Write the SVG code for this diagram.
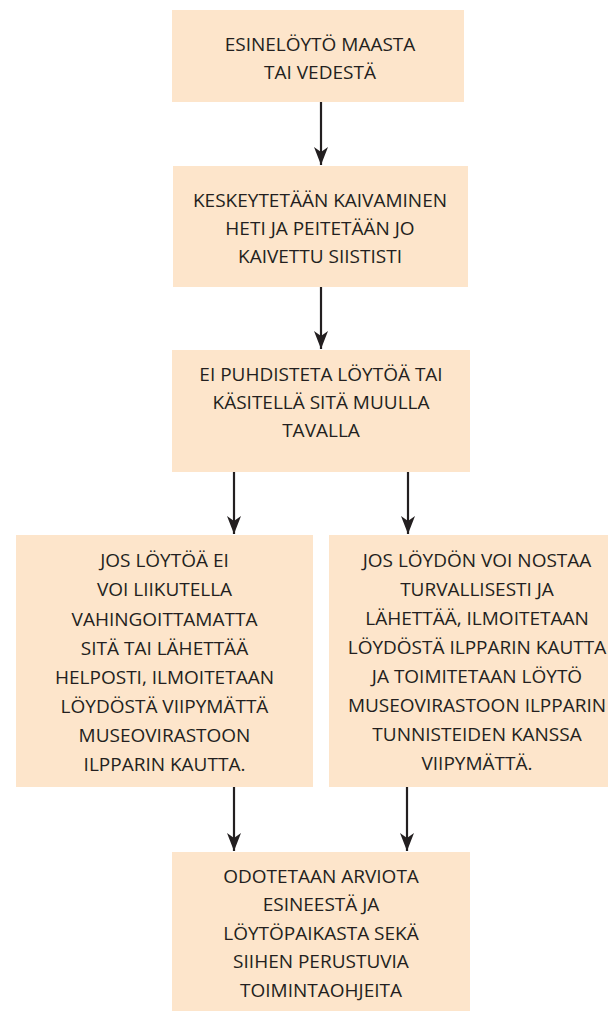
<svg xmlns="http://www.w3.org/2000/svg" width="608" height="1011" viewBox="0 0 608 1011">
<style>
.box{fill:#fde5cb;}
.t{font-family:"Open Sans","Liberation Sans",sans-serif;font-size:19px;font-weight:500;fill:#231f20;text-anchor:middle;}
.c{stroke:#231f20;stroke-width:2.2;fill:none;}
</style>
<defs>
<marker id="ah" markerUnits="userSpaceOnUse" markerWidth="18" markerHeight="15" viewBox="-18 -7.5 18 15" refX="0" refY="0" orient="auto">
<path d="M0,0 L-18,-7 L-13,0 L-18,7 Z" fill="#231f20"/>
</marker>
</defs>
<rect width="608" height="1011" fill="#ffffff"/>
<g id="n1">
<rect class="box" x="172" y="10" width="292" height="92"/>
<text class="t" x="320" y="51">ESINELÖYTÖ MAASTA</text>
<text class="t" x="320" y="79">TAI VEDESTÄ</text>
</g>
<g id="n2">
<rect class="box" x="173" y="166" width="295" height="121"/>
<text class="t" x="320" y="207">KESKEYTETÄÄN KAIVAMINEN</text>
<text class="t" x="320" y="235">HETI JA PEITETÄÄN JO</text>
<text class="t" x="320" y="263">KAIVETTU SIISTISTI</text>
</g>
<g id="n3">
<rect class="box" x="172" y="350" width="298" height="122"/>
<text class="t" x="321" y="381">EI PUHDISTETA LÖYTÖÄ TAI</text>
<text class="t" x="321" y="409">KÄSITELLÄ SITÄ MUULLA</text>
<text class="t" x="321" y="437">TAVALLA</text>
</g>
<g id="n4">
<rect class="box" x="16" y="535" width="297" height="252"/>
<text class="t" x="164.5" y="567">JOS LÖYTÖÄ EI</text>
<text class="t" x="164.5" y="596">VOI LIIKUTELLA</text>
<text class="t" x="164.5" y="626">VAHINGOITTAMATTA</text>
<text class="t" x="164.5" y="655">SITÄ TAI LÄHETTÄÄ</text>
<text class="t" x="164.5" y="684">HELPOSTI, ILMOITETAAN</text>
<text class="t" x="164.5" y="713">LÖYDÖSTÄ VIIPYMÄTTÄ</text>
<text class="t" x="164.5" y="742">MUSEOVIRASTOON</text>
<text class="t" x="164.5" y="771">ILPPARIN KAUTTA.</text>
</g>
<g id="n5">
<rect class="box" x="329" y="535" width="290" height="252"/>
<text class="t" x="477" y="567">JOS LÖYDÖN VOI NOSTAA</text>
<text class="t" x="477" y="596">TURVALLISESTI JA</text>
<text class="t" x="477" y="625">LÄHETTÄÄ, ILMOITETAAN</text>
<text class="t" x="477" y="654">LÖYDÖSTÄ ILPPARIN KAUTTA</text>
<text class="t" x="477" y="683">JA TOIMITETAAN LÖYTÖ</text>
<text class="t" x="477" y="712">MUSEOVIRASTOON ILPPARIN</text>
<text class="t" x="477" y="741">TUNNISTEIDEN KANSSA</text>
<text class="t" x="477" y="770">VIIPYMÄTTÄ.</text>
</g>
<g id="n6">
<rect class="box" x="172" y="852" width="298" height="159"/>
<text class="t" x="321" y="883">ODOTETAAN ARVIOTA</text>
<text class="t" x="321" y="911">ESINEESTÄ JA</text>
<text class="t" x="321" y="940">LÖYTÖPAIKASTA SEKÄ</text>
<text class="t" x="321" y="968">SIIHEN PERUSTUVIA</text>
<text class="t" x="321" y="997">TOIMINTAOHJEITA</text>
</g>
<g id="connectors">
<line class="c" x1="321" y1="102" x2="321" y2="165" marker-end="url(#ah)"/>
<line class="c" x1="321" y1="287" x2="321" y2="349" marker-end="url(#ah)"/>
<line class="c" x1="234" y1="472" x2="234" y2="534" marker-end="url(#ah)"/>
<line class="c" x1="408" y1="472" x2="408" y2="534" marker-end="url(#ah)"/>
<line class="c" x1="234" y1="787" x2="234" y2="851" marker-end="url(#ah)"/>
<line class="c" x1="407" y1="787" x2="407" y2="851" marker-end="url(#ah)"/>
</g>
</svg>
